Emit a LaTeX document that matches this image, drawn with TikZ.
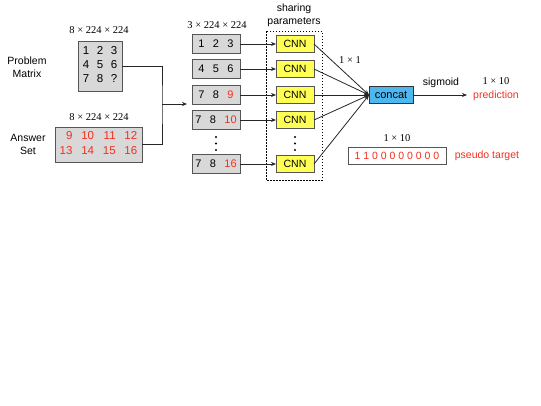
\documentclass[tikz,border=0pt]{standalone}
\usepackage{fontspec}
\setmainfont{Liberation Sans}
\newfontfamily\timesf{Liberation Serif}
\usetikzlibrary{arrows.meta}
\definecolor{boxgray}{HTML}{D8D8D8}
\definecolor{boxline}{HTML}{555555}
\definecolor{cnnyellow}{HTML}{FFFF55}
\definecolor{concatblue}{HTML}{4DB8F0}
\definecolor{redtxt}{HTML}{F2301E}
\begin{document}
\begin{tikzpicture}[x=1pt,y=-1pt,
  every node/.style={inner sep=0pt, outer sep=0pt},
  txt/.style={font=\fontsize{10.5}{12.6}\selectfont, align=center},
  dimlbl/.style={font=\timesf\fontsize{10.5}{12}\selectfont},
  graybox/.style={draw=boxline, fill=boxgray, line width=0.8pt},
  rowbox/.style={graybox, minimum width=48pt, minimum height=19pt, font=\fontsize{11}{13}\selectfont},
  cnnbox/.style={draw=boxline, fill=cnnyellow, line width=0.8pt, minimum width=38pt, minimum height=17pt, font=\fontsize{10.5}{12}\selectfont},
  conn/.style={line width=0.8pt, draw=black!85},
  arr/.style={conn, -{Stealth[length=5pt,width=4pt]}},
  red/.style={text=redtxt}
]
\useasboundingbox (0,0) rectangle (541,405);

% Problem matrix
\node[graybox, minimum width=44pt, minimum height=50pt, font=\fontsize{11.5}{13}\selectfont] (pm) at (100,66)
  {\begin{tabular}{@{}c@{\hspace{7.6pt}}c@{\hspace{7.6pt}}c@{}}1&2&3\\[1.2pt]4&5&6\\[1.2pt]7&8&?\end{tabular}};
\node[dimlbl] (pmdim) at (99,30) {8 × 224 × 224};
\node[txt] (pmlbl) at (27,67) {Problem\\Matrix};

% Answer set
\node[graybox, minimum width=87pt, minimum height=35pt, font=\fontsize{11.5}{13}\selectfont, text=redtxt] (as) at (98.5,144.5)
  {\begin{tabular}{@{}r@{\hspace{8.8pt}}r@{\hspace{8.8pt}}r@{\hspace{8.8pt}}r@{}}9&10&11&12\\[1.5pt]13&14&15&16\end{tabular}};
\node[dimlbl] (asdim) at (99,117) {8 × 224 × 224};
\node[txt] (aslbl) at (28,144.5) {Answer\\Set};

% merge connector
\coordinate (mj) at (162,104);
\coordinate (mt) at (187,104);
\draw[conn] (pm.east) -| (mj) |- (as.east);
\draw[arr] (mj) -- (mt);

% row boxes
\node[dimlbl] (rdim) at (217,25) {3 × 224 × 224};
\node[rowbox] (r1) at (216,44) {1\hspace{8.4pt}2\hspace{8.4pt}3};
\node[rowbox] (r2) at (216,69) {4\hspace{8.4pt}5\hspace{8.4pt}6};
\node[rowbox] (r3) at (216,95) {7\hspace{8.4pt}8\hspace{8.4pt}\textcolor{redtxt}{9}};
\node[rowbox] (r4) at (216,120) {7\hspace{8.4pt}8\hspace{8.4pt}\textcolor{redtxt}{10}};
\node[rowbox] (r5) at (216,164) {7\hspace{8.4pt}8\hspace{8.4pt}\textcolor{redtxt}{16}};
\foreach \yy in {137,143.5,150}{
  \fill (216,\yy) circle (1.2pt);
  \fill (295,\yy) circle (1.2pt);
}

% sharing box
\node[txt] (share) at (294,15.5) {sharing\\parameters};
\draw[line width=0.8pt, dash pattern=on 1.5pt off 1.5pt] (266,31) rectangle (322,180);

% CNN boxes
\node[cnnbox] (c1) at (295,44) {CNN};
\node[cnnbox] (c2) at (295,69) {CNN};
\node[cnnbox] (c3) at (295,95) {CNN};
\node[cnnbox] (c4) at (295,120) {CNN};
\node[cnnbox] (c5) at (295,164) {CNN};

\foreach \i in {1,...,5}{
  \draw[arr] (r\i.east) -- (c\i.west);
}

% concat
\node[draw=black!80, fill=concatblue, line width=0.8pt, minimum width=44pt, minimum height=17pt, font=\fontsize{11}{13}\selectfont] (cc) at (391,95) {concat};
\foreach \i in {1,...,5}{
  \draw[arr] (c\i.east) -- (cc.west);
}
\node[dimlbl] (one) at (350,60) {1 × 1};

% output
\coordinate (pend) at (467,95);
\draw[arr] (cc.east) -- (pend);
\node[txt] (sig) at (441,83) {sigmoid};
\node[dimlbl] (pdim) at (496,81) {1 × 10};
\node[txt, red] (pred) at (496,96) {prediction};

% pseudo target
\node[draw=boxline, line width=0.8pt, minimum width=98pt, minimum height=17pt, font=\fontsize{10.5}{12}\selectfont, text=redtxt] (pt) at (397,155.5) {1 1 0 0 0 0 0 0 0 0};
\node[dimlbl] (ptdim) at (397,138) {1 × 10};
\node[txt, red] (ptl) at (487,156) {pseudo target};
\end{tikzpicture}
\end{document}
